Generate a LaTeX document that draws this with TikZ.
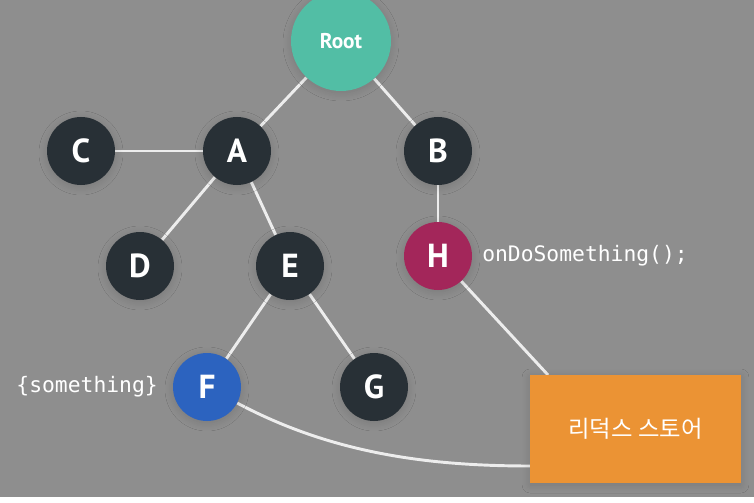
\documentclass[tikz,border=0pt]{standalone}
\usepackage{fontspec}
\setsansfont{PT Sans}
\setmonofont{DejaVu Sans Mono}
\newfontfamily\krfont{Noto Sans CJK KR}
\usepackage{tikz}
\usetikzlibrary{backgrounds,shadows.blur}

\definecolor{bggray}{HTML}{8E8E8E}
\definecolor{nodedark}{HTML}{283036}
\definecolor{rootteal}{HTML}{52BEA5}
\definecolor{hred}{HTML}{A3265A}
\definecolor{fblue}{HTML}{2C63BF}
\definecolor{storeorange}{HTML}{EB9334}
\definecolor{linkwhite}{HTML}{EDEDED}

\begin{document}
\begin{tikzpicture}[x=0.75pt,y=-0.75pt,
    softshadow/.style={blur shadow={shadow xshift=0pt,shadow yshift=-1.5pt,shadow blur radius=6pt,shadow blur steps=12,shadow opacity=14}},
    vertex/.style={circle,fill=nodedark,inner sep=0pt,minimum size=51pt,
        text=white,font=\sffamily\bfseries\fontsize{25}{29}\selectfont,softshadow},
    code/.style={text=white,font=\ttfamily\fontsize{16}{19}\selectfont,inner sep=0pt},
    link/.style={draw=linkwhite,line width=2.2pt}
]
    \useasboundingbox (0,0) rectangle (754,503);

    % Root
    \node[vertex,fill=rootteal,minimum size=75pt,font=\sffamily\bfseries\fontsize{16}{19}\selectfont] (root) at (341,41) {Root};

    % Tree nodes
    \foreach \n/\x/\y in {C/81/151, A/237/151, B/438/151, D/140/266, E/290/266, G/374/387} {
        \node[vertex] (\n) at (\x,\y) {\n};
    }
    \node[vertex,fill=hred] (H) at (438,256) {H};
    \node[vertex,fill=fblue] (F) at (207,387) {F};

    % Store
    \node[rectangle,fill=storeorange,minimum width=158pt,minimum height=81pt,
        text=white,font=\krfont\fontsize{17.5}{21}\selectfont,softshadow]
        (store) at (635.5,429) {리덕스 스토어};
    \coordinate (hin) at (548,375);
    \coordinate (fin) at (530,466);

    % Code labels
    \node[code,anchor=east] (fcode) at (158,387) {\{something\}};
    \node[code,anchor=west] (hcode) at (482,256) {onDoSomething();};

    % Background and connections
    \begin{scope}[on background layer]
        \fill[bggray] (0,0) rectangle (754,497);
        \foreach \a/\b in {root/A, root/B, C/A, A/D, A/E, B/H, E/F, E/G} {
            \draw[link] (\a) -- (\b);
        }
        \draw[link] (H) -- (hin);
        \draw[link] (F) to[out=-28,in=180,looseness=0.9] (fin);
    \end{scope}
\end{tikzpicture}
\end{document}
